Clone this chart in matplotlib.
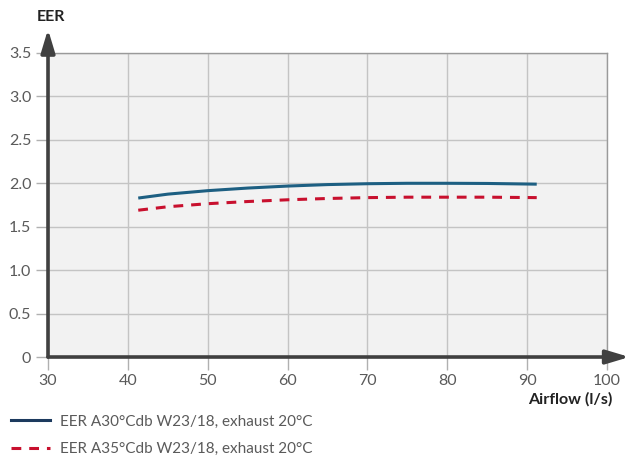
import matplotlib.pyplot as plt
from matplotlib.lines import Line2D

plt.rcParams['font.family'] = ['Lato', 'DejaVu Sans']

# data
airflow = [41.3, 45, 50, 55, 60, 65, 70, 75, 80, 85, 91.2]
eer_a30 = [1.83, 1.875, 1.915, 1.945, 1.968, 1.985, 1.995, 2.0, 2.0, 1.998, 1.99]
eer_a35 = [1.69, 1.73, 1.765, 1.79, 1.81, 1.825, 1.835, 1.84, 1.84, 1.84, 1.835]
labels = ['EER A30°Cdb W23/18, exhaust 20°C', 'EER A35°Cdb W23/18, exhaust 20°C']

xticks = [30, 40, 50, 60, 70, 80, 90, 100]
yticks = [0, 0.5, 1.0, 1.5, 2.0, 2.5, 3.0, 3.5]
yticklabels = ['0', '0.5', '1.0', '1.5', '2.0', '2.5', '3.0', '3.5']

fig = plt.figure(figsize=(6.3, 4.58), dpi=100)
ax = fig.add_axes([0.0762, 0.2205, 0.8873, 0.6638])
ax.set_facecolor('#f2f2f2')

ax.plot(airflow, eer_a30, color='#1d5f82', lw=2.2, solid_capstyle='butt')
ax.plot(airflow, eer_a35, color='#c8102e', lw=2.2, ls=(0, (3.2, 2.6)))

ax.set_xlim(30, 100)
ax.set_ylim(0, 3.5)
ax.set_xticks(xticks)
ax.set_yticks(yticks)
ax.set_yticklabels(yticklabels)
ax.grid(True, color='#c4c4c4', lw=1)
ax.set_axisbelow(True)
ax.tick_params(axis='both', colors='#b0b0b0', length=9, width=1,
               labelcolor='#5a5a5a', labelsize=11.5, pad=3)

for s in ['top', 'right']:
    ax.spines[s].set_color('#9a9a9a')
    ax.spines[s].set_linewidth(1)
for s in ['left', 'bottom']:
    ax.spines[s].set_visible(False)

# axis arrows
arrow = dict(arrowstyle='-|>,head_length=1.4,head_width=0.42',
             color='#404040', lw=2.6, shrinkA=0, shrinkB=0)
ax.annotate('', xy=(0, 1.078), xytext=(0, 0), xycoords='axes fraction', arrowprops=arrow)
ax.annotate('', xy=(1.04, 0), xytext=(0, 0), xycoords='axes fraction', arrowprops=arrow)

fig.text(0.058, 0.963, 'EER', fontsize=11.5, fontweight='bold', color='#222222', va='center')
fig.text(0.972, 0.128, 'Airflow (l/s)', fontsize=11.5, fontweight='bold', color='#222222',
         ha='right', va='center')

handles = [Line2D([], [], color='#1c3a5e', lw=2.2),
           Line2D([], [], color='#c8102e', lw=2.2, ls=(0, (3.2, 2.6)))]
fig.legend(handles, labels, loc='upper left', bbox_to_anchor=(-0.005, 0.125),
           frameon=False, fontsize=11, labelcolor='#5a5a5a', handlelength=2.6,
           handletextpad=0.65, labelspacing=0.9)

fig.savefig('out.png', dpi=100)
